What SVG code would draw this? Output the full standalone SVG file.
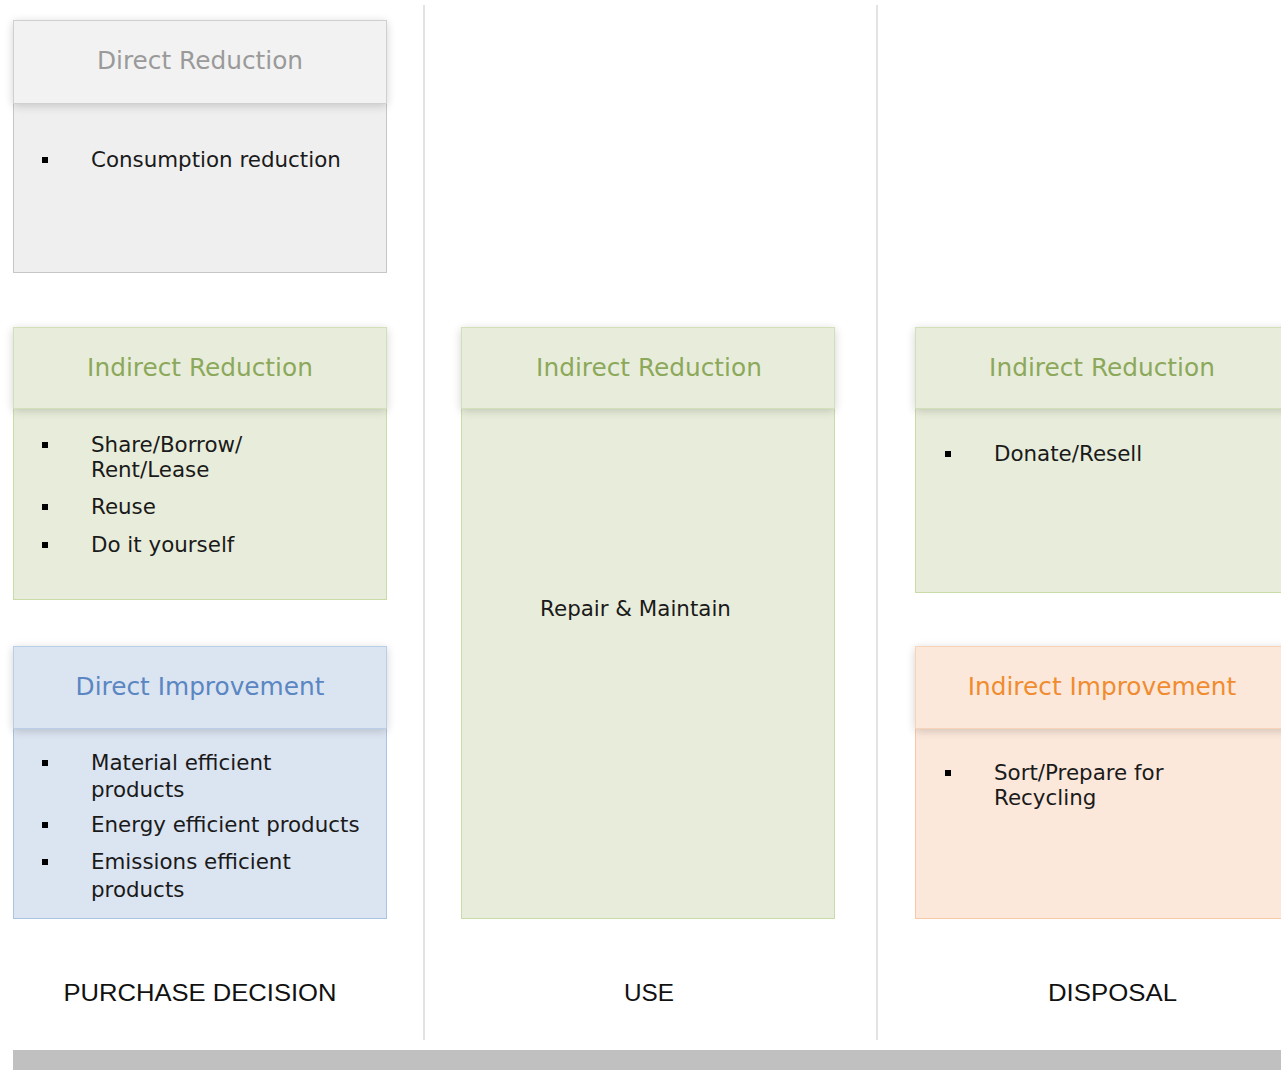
<svg xmlns="http://www.w3.org/2000/svg" width="1281" height="1078" viewBox="0 0 1281 1078">
<defs>
<filter id="sh" x="-10%" y="-30%" width="120%" height="170%">
<feGaussianBlur in="SourceAlpha" stdDeviation="5"/>
<feOffset dx="0" dy="2" result="b"/>
<feComponentTransfer><feFuncA type="linear" slope="0.18"/></feComponentTransfer>
<feMerge><feMergeNode/><feMergeNode in="SourceGraphic"/></feMerge>
</filter>
</defs>
<style>
.t{font-family:"DejaVu Sans",Verdana,sans-serif;font-size:24.8px;text-anchor:middle}
.b{font-family:"DejaVu Sans",Verdana,sans-serif;font-size:21.4px;fill:#1a1a1a}
.lbl{font-family:"Liberation Sans",Arial,sans-serif;font-size:24px;fill:#111;text-anchor:middle}
.gray .body{fill:#efefef;stroke:#c6c6c6}
.gray .head{fill:#f2f2f2;stroke:#d0d0d0}
.gray .t{fill:#9a9a9a}
.green .body{fill:#e8eddb;stroke:#c9dba6}
.green .head{fill:#e8eddb;stroke:#d2e0b8}
.green .t{fill:#8ca85a}
.blue .body{fill:#dbe4f1;stroke:#a9c3e4}
.blue .head{fill:#dbe4f1;stroke:#b9cfe9}
.blue .t{fill:#5a86c2}
.orange .body{fill:#fce8db;stroke:#f8c9a5}
.orange .head{fill:#fce8db;stroke:#f9d3b8}
.orange .t{fill:#f08c30}
.sep{stroke:#e3e3e3;stroke-width:2}
.dot{fill:#000}
</style>
<rect width="1281" height="1078" fill="#ffffff"/>
<g id="separators">
<line class="sep" x1="424" y1="5" x2="424" y2="1040"/>
<line class="sep" x1="877" y1="5" x2="877" y2="1040"/>
</g>
<g id="connectors"></g>
<g id="direct-reduction" class="gray">
<rect class="body" x="13.5" y="20.5" width="373" height="252"/>
<rect class="head" x="13.5" y="20.5" width="373" height="83" filter="url(#sh)"/>
<text class="t" x="200" y="69">Direct Reduction</text>
<rect class="dot" x="42" y="157" width="6" height="6"/>
<text class="b" x="91" y="167">Consumption reduction</text>
</g>
<g id="indirect-reduction-purchase" class="green">
<rect class="body" x="13.5" y="327.5" width="373" height="272"/>
<rect class="head" x="13.5" y="327.5" width="373" height="81" filter="url(#sh)"/>
<text class="t" x="200" y="376">Indirect Reduction</text>
<rect class="dot" x="42" y="442" width="6" height="6"/>
<text class="b" x="91" y="452">Share/Borrow/</text>
<text class="b" x="91" y="477">Rent/Lease</text>
<rect class="dot" x="42" y="504" width="6" height="6"/>
<text class="b" x="91" y="514">Reuse</text>
<rect class="dot" x="42" y="542" width="6" height="6"/>
<text class="b" x="91" y="552">Do it yourself</text>
</g>
<g id="direct-improvement" class="blue">
<rect class="body" x="13.5" y="646.5" width="373" height="272"/>
<rect class="head" x="13.5" y="646.5" width="373" height="82" filter="url(#sh)"/>
<text class="t" x="200" y="695">Direct Improvement</text>
<rect class="dot" x="42" y="760" width="6" height="6"/>
<text class="b" x="91" y="770">Material efficient</text>
<text class="b" x="91" y="797">products</text>
<rect class="dot" x="42" y="822" width="6" height="6"/>
<text class="b" x="91" y="832">Energy efficient products</text>
<rect class="dot" x="42" y="859" width="6" height="6"/>
<text class="b" x="91" y="869">Emissions efficient</text>
<text class="b" x="91" y="897">products</text>
</g>
<g id="indirect-reduction-use" class="green">
<rect class="body" x="461.5" y="327.5" width="373" height="591"/>
<rect class="head" x="461.5" y="327.5" width="373" height="81" filter="url(#sh)"/>
<text class="t" x="649" y="376">Indirect Reduction</text>
<text class="b" x="635.5" y="616" text-anchor="middle">Repair &amp; Maintain</text>
</g>
<g id="indirect-reduction-disposal" class="green">
<rect class="body" x="915.5" y="327.5" width="380" height="265"/>
<rect class="head" x="915.5" y="327.5" width="380" height="81" filter="url(#sh)"/>
<text class="t" x="1102" y="376">Indirect Reduction</text>
<rect class="dot" x="945" y="451" width="6" height="6"/>
<text class="b" x="994" y="461">Donate/Resell</text>
</g>
<g id="indirect-improvement" class="orange">
<rect class="body" x="915.5" y="646.5" width="380" height="272"/>
<rect class="head" x="915.5" y="646.5" width="380" height="82" filter="url(#sh)"/>
<text class="t" x="1102" y="695">Indirect Improvement</text>
<rect class="dot" x="945" y="770" width="6" height="6"/>
<text class="b" x="994" y="780">Sort/Prepare for</text>
<text class="b" x="994" y="805">Recycling</text>
</g>
<g id="stage-labels">
<text class="lbl" x="200" y="1001" textLength="273" lengthAdjust="spacingAndGlyphs">PURCHASE DECISION</text>
<text class="lbl" x="649" y="1001" textLength="50" lengthAdjust="spacingAndGlyphs">USE</text>
<text class="lbl" x="1112.5" y="1001" textLength="129" lengthAdjust="spacingAndGlyphs">DISPOSAL</text>
</g>
<g id="timeline-bar">
<rect x="13" y="1050" width="1268" height="20" fill="#c0c0c0"/>
</g>
</svg>
